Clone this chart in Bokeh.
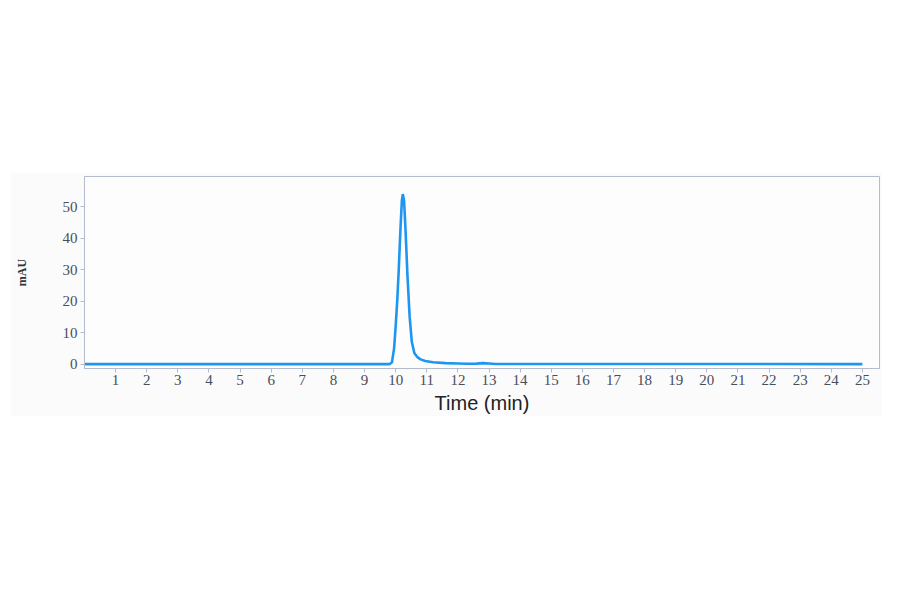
from bokeh.plotting import figure
from bokeh.models import FixedTicker, Range1d, Spacer
from bokeh.layouts import column, row
from bokeh.embed import file_html
from bokeh.resources import INLINE

# Chromatogram
time_min = [0.0, 9.80, 9.88, 9.95, 10.00, 10.05, 10.10, 10.15, 10.20, 10.23,
            10.27, 10.32, 10.38, 10.45, 10.52, 10.60, 10.70, 10.80, 10.95,
            11.20, 11.60, 12.00, 12.30, 12.60, 12.80, 13.00, 13.20, 25.0]
mau = [0.0, 0.0, 0.5, 5.0, 12.0, 20.0, 30.0, 42.0, 52.0, 54.0,
       52.0, 42.0, 28.0, 15.0, 7.0, 3.5, 2.2, 1.5, 1.0,
       0.6, 0.3, 0.2, 0.1, 0.15, 0.3, 0.2, 0.05, 0.0]
x_ticks = list(range(1, 26))
y_ticks = [0, 10, 20, 30, 40, 50]

frame_col = "#b4bccb"
label_col = "#4a4d5a"

p = figure(width=872, height=244, output_backend="svg", toolbar_location=None,
           x_range=Range1d(0, 25.55), y_range=Range1d(-1.4, 59.6),
           min_border_left=74, min_border_right=3, min_border_top=4,
           min_border_bottom=48)
p.background_fill_color = "#fdfdfd"
p.border_fill_color = "#fbfbfb"
p.outline_line_color = frame_col
p.outline_line_width = 1
p.xgrid.visible = False
p.ygrid.visible = False

p.line(time_min, mau, line_color="#1e96f0", line_width=2.6)

for ax in (p.xaxis[0], p.yaxis[0]):
    ax.axis_line_color = frame_col
    ax.major_tick_line_color = frame_col
    ax.minor_tick_line_color = None
    ax.major_tick_in = 0
    ax.major_tick_out = 4
    ax.major_label_text_font = "Liberation Serif"
    ax.major_label_text_font_size = "15px"
    ax.major_label_text_color = label_col

p.xaxis.ticker = FixedTicker(ticks=x_ticks)
p.yaxis.ticker = FixedTicker(ticks=y_ticks)
p.xaxis.major_label_standoff = 2
p.yaxis.major_label_standoff = 3

p.xaxis.axis_label = "Time (min)"
p.xaxis.axis_label_text_font = "Liberation Sans"
p.xaxis.axis_label_text_font_style = "normal"
p.xaxis.axis_label_text_font_size = "20px"
p.xaxis.axis_label_text_color = "#222222"
p.xaxis.axis_label_standoff = 4

p.yaxis.axis_label = "mAU"
p.yaxis.axis_label_text_font = "Liberation Serif"
p.yaxis.axis_label_text_font_style = "bold"
p.yaxis.axis_label_text_font_size = "12px"
p.yaxis.axis_label_text_color = "#333333"
p.yaxis.axis_label_standoff = 31

layout = column(Spacer(height=172, width=882), row(Spacer(width=10, height=244), p))

open("out.html", "w").write(file_html(layout, INLINE))
